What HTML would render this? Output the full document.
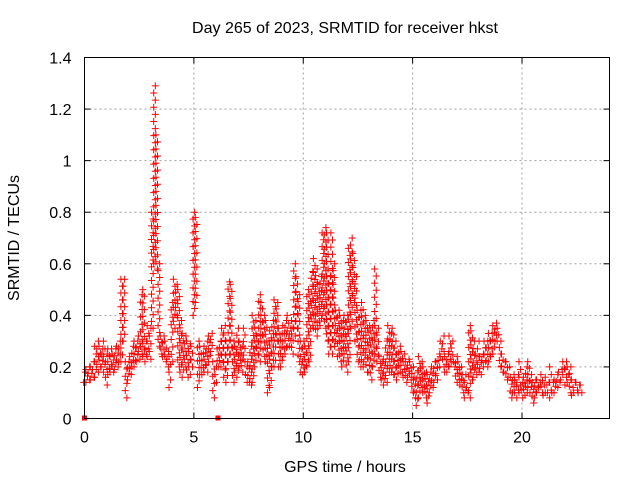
<!DOCTYPE html>
<html><head><meta charset="utf-8">
<style>
html,body{margin:0;padding:0;background:#fff;}
svg{display:block;font-family:"Liberation Sans",sans-serif;}
</style></head>
<body>
<svg id="chart" width="640" height="480" viewBox="0 0 640 480">
<text x="345" y="33" text-anchor="middle" font-size="16">Day 265 of 2023, SRMTID for receiver hkst</text>
<text x="345" y="472" text-anchor="middle" font-size="16">GPS time / hours</text>
<text transform="translate(19,238) rotate(-90)" text-anchor="middle" font-size="16">SRMTID / TECUs</text>
<g id="grid"></g>
<g id="ticks"></g>
<g id="marks"></g>
<rect x="84.5" y="57.5" width="525" height="361" fill="none" stroke="#000" stroke-width="1"/>
</svg>
<script>
const xTicks=[0,5,10,15,20];
const yTicks=[0,0.2,0.4,0.6,0.8,1,1.2,1.4];
const yTickLabels=["0","0.2","0.4","0.6","0.8","1","1.2","1.4"];
const tStart=0, tStep=0.1;
const lo=[.14,.14,.15,.15,.16,.16,.18,.20,.20,.18,
.13,.17,.18,.18,.19,.20,.22,.22,.30,.08,
.15,.17,.20,.20,.22,.23,.25,.24,.22,.24,
.23,.35,.60,.58,.28,.25,.24,.22,.20,.12,
.22,.35,.40,.20,.18,.16,.20,.16,.17,.20,
.40,.45,.12,.17,.17,.18,.18,.22,.26,.08,
.14,.20,.20,.22,.16,.14,.22,.25,.14,.18,
.16,.20,.18,.22,.14,.14,.13,.14,.20,.25,
.22,.30,.24,.22,.10,.12,.20,.20,.30,.20,
.20,.24,.25,.28,.28,.25,.32,.35,.22,.18,
.17,.18,.20,.22,.36,.35,.32,.35,.36,.40,
.35,.30,.25,.25,.28,.30,.24,.22,.20,.25,
.18,.22,.35,.45,.30,.22,.20,.20,.22,.18,
.18,.15,.20,.25,.22,.16,.15,.13,.14,.18,
.18,.17,.17,.15,.18,.18,.16,.14,.16,.15,
.10,.08,.05,.08,.12,.10,.08,.06,.10,.12,
.14,.15,.20,.24,.20,.18,.18,.20,.22,.20,
.14,.15,.13,.10,.08,.10,.08,.15,.16,.17,
.18,.17,.20,.22,.20,.22,.24,.25,.30,.30,
.20,.18,.18,.15,.16,.08,.10,.10,.08,.10,
.08,.09,.10,.12,.10,.06,.08,.10,.12,.10,
.09,.10,.10,.08,.10,.10,.12,.14,.15,.17,
.13,.14,.10,.09,.10,.11,.10,.10];
const hi=[.18,.19,.20,.20,.22,.28,.30,.28,.27,.30,
.25,.27,.27,.25,.27,.28,.30,.54,.54,.22,
.22,.24,.28,.30,.30,.32,.48,.50,.30,.36,
.35,.80,1.29,1.10,.60,.32,.32,.30,.26,.24,
.45,.54,.52,.50,.38,.33,.32,.30,.29,.28,
.80,.78,.30,.28,.25,.28,.30,.32,.33,.22,
.20,.27,.30,.35,.36,.30,.53,.52,.30,.28,
.35,.30,.28,.35,.20,.22,.28,.40,.38,.32,
.48,.45,.40,.38,.30,.34,.38,.46,.45,.35,
.33,.36,.38,.40,.35,.38,.60,.55,.48,.30,
.30,.28,.50,.48,.57,.62,.58,.52,.55,.72,
.74,.72,.55,.72,.60,.42,.42,.40,.38,.40,
.40,.66,.70,.64,.55,.42,.42,.45,.40,.38,
.36,.34,.38,.58,.35,.24,.22,.23,.30,.36,
.33,.35,.30,.25,.28,.26,.25,.22,.23,.22,
.20,.16,.18,.24,.22,.20,.18,.17,.18,.20,
.22,.22,.25,.30,.32,.24,.25,.32,.30,.22,
.24,.22,.20,.17,.17,.12,.36,.34,.30,.25,
.30,.24,.25,.30,.30,.33,.33,.36,.37,.35,
.30,.25,.22,.22,.20,.16,.17,.15,.17,.22,
.14,.16,.20,.22,.17,.14,.15,.15,.14,.17,
.13,.16,.14,.20,.14,.15,.17,.18,.19,.22,
.22,.20,.20,.15,.14,.14,.13,.13];
const zeroTimes=[0,6.1];

const X0=84.5,X1=609.5,Y0=418.5,Y1=57.5,XMAX=24,YMAX=1.4;
function xs(t){return X0+(X1-X0)*t/XMAX;}
function ys(v){return Y0-(Y0-Y1)*v/YMAX;}
const NS="http://www.w3.org/2000/svg";
const grid=document.getElementById('grid'),ticks=document.getElementById('ticks'),marks=document.getElementById('marks');
function mk(tag,attrs,parent){const e=document.createElementNS(NS,tag);for(const k in attrs)e.setAttribute(k,attrs[k]);parent.appendChild(e);return e;}
xTicks.forEach(t=>{
  const x=xs(t);
  if(t>0){const g=mk('line',{x1:x,x2:x,y1:Y1,y2:Y0,stroke:'#a0a0a0','stroke-dasharray':'2,3'},grid);
  
  }
  mk('line',{x1:x,x2:x,y1:Y0,y2:Y0-6,stroke:'#000'},ticks);
  mk('line',{x1:x,x2:x,y1:Y1,y2:Y1+6,stroke:'#000'},ticks);
  const l=mk('text',{x:x,y:Y0+24,'text-anchor':'middle','font-size':'16'},ticks);
  l.textContent=String(t);
  
  
});
yTicks.forEach((v,i)=>{
  const y=ys(v);
  if(v>0&&v<YMAX){const g=mk('line',{x1:X0,x2:X1,y1:y,y2:y,stroke:'#a0a0a0','stroke-dasharray':'2,3'},grid);
  
  }
  mk('line',{x1:X0,x2:X0+6,y1:y,y2:y,stroke:'#000'},ticks);
  mk('line',{x1:X1,x2:X1-6,y1:y,y2:y,stroke:'#000'},ticks);
  const l=mk('text',{x:X0-13,y:y+6,'text-anchor':'end','font-size':'16'},ticks);
  l.textContent=yTickLabels[i];
  
  
});
lo.forEach((l,i)=>{
  const t=tStart+i*tStep, x=xs(t);
  const ya=ys(hi[i]), yb=ys(l);
  const span=yb-ya;
  const n=Math.max(1,Math.round(span/7));
  let d='';
  for(let k=0;k<=n;k++){const y=ya+span*k/n; const dx=(k%2?1:-1)*(i%2?0.8:-0.8);
    d+=`M${x+dx-3.5},${y}h7M${x+dx},${y-3.5}v7`;}
  const p=mk('path',{d:d,stroke:'#ff0000','stroke-width':'1',fill:'none'},marks);
  
  
});
zeroTimes.forEach(t=>{
  const r=mk('rect',{x:xs(t)-2.5,y:Y0-3,width:5,height:5,fill:'#ff0000'},marks);
  
  
});
</script>
</body></html>
